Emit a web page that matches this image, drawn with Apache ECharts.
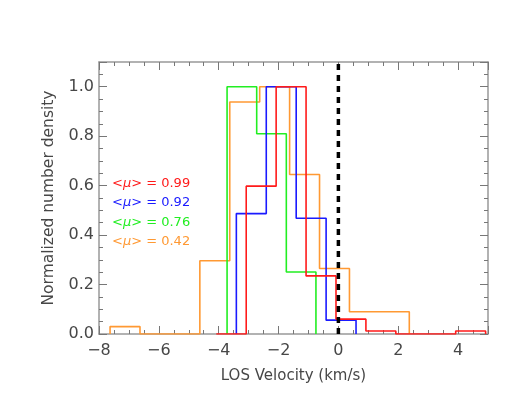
<!DOCTYPE html>
<html><head><meta charset="utf-8">
<script src="https://cdn.jsdelivr.net/npm/echarts@6/dist/echarts.min.js"></script>
<style>html,body{margin:0;padding:0;background:#fff}#c{width:518px;height:414px}</style>
</head><body><div id="c"></div>
<script>
// Histogram data: first bin left edge, bin width, bin heights
var redStart = -4.08, redWidth = 1.0;
var redValues = [0, 0.598, 1.0, 0.235, 0.06, 0.012, 0, 0, 0.012];
var blueStart = -3.41, blueWidth = 1.0;
var blueValues = [0.487, 1.0, 0.468, 0.056];
var greenStart = -3.72, greenWidth = 0.99;
var greenValues = [1.0, 0.81, 0.251];
var orangeStart = -7.63, orangeWidth = 1.0;
var orangeValues = [0.03, 0, 0, 0.296, 0.938, 1.0, 0.645, 0.265, 0.09, 0.09];
var muValues = ['0.99', '0.92', '0.76', '0.42'];
var colors = ['#ff1a1a', '#1a1aff', '#22ee22', '#ff9933'];
var xTicks = [-8, -6, -4, -2, 0, 2, 4];
var yTicks = [0.0, 0.2, 0.4, 0.6, 0.8, 1.0];

function stepPoints(start, width, values) {
  var pts = [[start, 0]];
  for (var i = 0; i < values.length; i++) {
    pts.push([start + i * width, values[i]]);
    pts.push([start + (i + 1) * width, values[i]]);
  }
  pts.push([start + values.length * width, 0]);
  return pts;
}

var hists = [
  [redStart, redWidth, redValues],
  [blueStart, blueWidth, blueValues],
  [greenStart, greenWidth, greenValues],
  [orangeStart, orangeWidth, orangeValues]
];

var axisCol = '#999999', tickCol = '#777777', txtCol = '#474747';
var fontFam = '"DejaVu Sans", sans-serif';

var series = [];
for (var k = hists.length - 1; k >= 0; k--) {
  series.push({
    type: 'line', xAxisIndex: 0, yAxisIndex: 0,
    data: stepPoints(hists[k][0], hists[k][1], hists[k][2]),
    symbol: 'none', silent: true,
    lineStyle: { color: colors[k], width: 1.6 }
  });
}
series.push({
  type: 'line', data: [[0, 0], [0, 1.1]], symbol: 'none', silent: true,
  lineStyle: { color: '#000', width: 3.5, type: [6, 5] }
});

function fmtX(v) { return xTicks.indexOf(v) >= 0 ? String(v).replace('-', '\u2212') : ''; }

var baseX = {
  type: 'value', min: -8, max: 5, interval: 2,
  axisLine: { show: true, onZero: false, lineStyle: { color: axisCol, width: 1.5 } },
  axisTick: { show: true, inside: true, length: 8, lineStyle: { color: tickCol } },
  minorTick: { show: true, splitNumber: 4, length: 4, lineStyle: { color: tickCol } },
  splitLine: { show: false }, minorSplitLine: { show: false }
};
var baseY = {
  type: 'value', min: 0, max: 1.1, interval: 0.2,
  axisLine: { show: true, onZero: false, lineStyle: { color: axisCol, width: 1.5 } },
  axisTick: { show: true, inside: true, length: 8, lineStyle: { color: tickCol } },
  minorTick: { show: true, splitNumber: 4, length: 4, lineStyle: { color: tickCol } },
  splitLine: { show: false }, minorSplitLine: { show: false }
};

var graphics = muValues.map(function (m, i) {
  return {
    type: 'text', left: 112, top: 177 + i * 19.5,
    style: {
      text: '<{i|\u03bc}> = ' + m,
      font: '13px ' + fontFam, fill: colors[i],
      rich: { i: { fontStyle: 'italic', fontSize: 13, fontFamily: fontFam, fill: colors[i] } }
    }
  };
});

var chart = echarts.init(document.getElementById('c'), null, { renderer: 'canvas' });
chart.setOption({
  animation: false,
  backgroundColor: '#ffffff',
  grid: { left: 99, right: 30, top: 62, bottom: 80 },
  xAxis: [
    Object.assign({}, baseX, {
      position: 'bottom',
      name: 'LOS Velocity (km/s)', nameLocation: 'middle', nameGap: 35,
      nameTextStyle: { color: txtCol, fontSize: 15, fontFamily: fontFam },
      axisLabel: { color: txtCol, fontSize: 16, fontFamily: fontFam, margin: 9, showMaxLabel: false, formatter: fmtX }
    }),
    Object.assign({}, baseX, { position: 'top', axisLabel: { show: false } })
  ],
  yAxis: [
    Object.assign({}, baseY, {
      position: 'left',
      name: 'Normalized number density', nameLocation: 'middle', nameGap: 42,
      nameTextStyle: { color: txtCol, fontSize: 15.5, fontFamily: fontFam },
      axisLabel: { color: txtCol, fontSize: 16, fontFamily: fontFam, margin: 5, showMaxLabel: false,
        formatter: function (v) { return v.toFixed(1); } }
    }),
    Object.assign({}, baseY, { position: 'right', axisLabel: { show: false } })
  ],
  series: series,
  graphic: graphics
});
</script></body></html>
